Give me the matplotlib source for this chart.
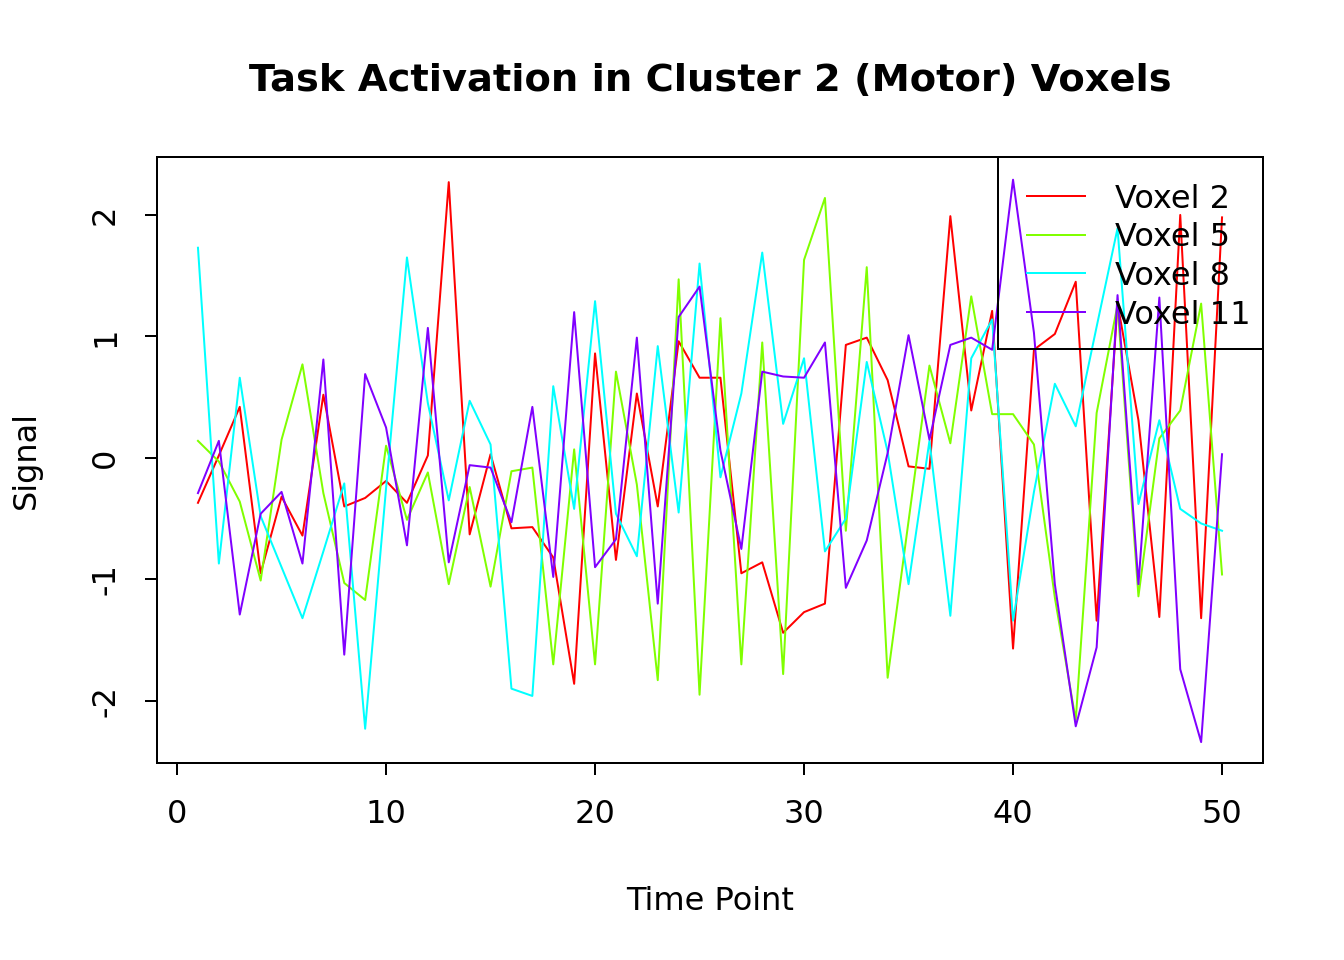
import matplotlib as mpl

mpl.use('agg')
import matplotlib.pyplot as plt
from matplotlib.patches import Rectangle
import numpy as np

# time points and signals per voxel
time_points = np.arange(1, 51)
voxel_2 = [-0.37, 0.02, 0.42, -0.95, -0.32, -0.64, 0.52, -0.40, -0.33, -0.19,
           -0.37, 0.02, 2.27, -0.63, 0.03, -0.58, -0.57, -0.82, -1.86, 0.86,
           -0.84, 0.53, -0.40, 0.96, 0.66, 0.66, -0.95, -0.86, -1.44, -1.27,
           -1.20, 0.93, 0.99, 0.64, -0.07, -0.09, 1.99, 0.39, 1.21, -1.57,
           0.89, 1.02, 1.45, -1.34, 1.27, 0.31, -1.31, 2.00, -1.32, 1.98]
voxel_5 = [0.14, -0.03, -0.36, -1.01, 0.15, 0.77, -0.29, -1.03, -1.17, 0.10,
           -0.51, -0.12, -1.04, -0.24, -1.06, -0.11, -0.08, -1.70, 0.07, -1.70,
           0.71, -0.22, -1.83, 1.47, -1.95, 1.15, -1.70, 0.95, -1.78, 1.63,
           2.14, -0.60, 1.57, -1.81, -0.52, 0.76, 0.12, 1.33, 0.36, 0.36,
           0.11, -1.15, -2.16, 0.37, 1.26, -1.14, 0.16, 0.39, 1.27, -0.96]
voxel_8 = [1.73, -0.87, 0.66, -0.48, -0.90, -1.32, -0.77, -0.21, -2.23, -0.25,
           1.65, 0.45, -0.35, 0.47, 0.11, -1.90, -1.96, 0.59, -0.42, 1.29,
           -0.46, -0.81, 0.92, -0.45, 1.60, -0.16, 0.53, 1.69, 0.28, 0.82,
           -0.77, -0.50, 0.79, 0.05, -1.04, 0.14, -1.30, 0.82, 1.14, -1.34,
           -0.28, 0.61, 0.26, 1.08, 1.89, -0.38, 0.31, -0.42, -0.54, -0.60]
voxel_11 = [-0.29, 0.14, -1.29, -0.46, -0.28, -0.87, 0.81, -1.62, 0.69, 0.25,
            -0.72, 1.07, -0.86, -0.06, -0.08, -0.53, 0.42, -0.98, 1.20, -0.90,
            -0.67, 0.99, -1.20, 1.16, 1.41, 0.06, -0.75, 0.71, 0.67, 0.66,
            0.95, -1.07, -0.68, 0.04, 1.01, 0.15, 0.93, 0.99, 0.89, 2.29,
            1.03, -1.04, -2.21, -1.56, 1.34, -1.04, 1.32, -1.74, -2.34, 0.03]
series_labels = ['Voxel 2', 'Voxel 5', 'Voxel 8', 'Voxel 11']
series_colors = ['#FF0000', '#80FF00', '#00FFFF', '#8000FF']

plt.rcParams['font.family'] = 'DejaVu Sans'
plt.rcParams['axes.unicode_minus'] = False
fig = plt.figure(figsize=(7, 5), dpi=192)
ax = fig.add_axes([157 / 1344, 1 - 763 / 960, 1106 / 1344, 606 / 960])

for ys, label, color in zip([voxel_2, voxel_5, voxel_8, voxel_11], series_labels, series_colors):
  ax.plot(time_points, ys, color=color, lw=0.75, label=label)

ax.set_xlim(-0.96, 51.96)
ax.set_ylim(-2.512, 2.477)
ax.set_xticks([0, 10, 20, 30, 40, 50])
ax.set_yticks([-2, -1, 0, 1, 2])
for sp in ax.spines.values():
  sp.set_linewidth(0.75)
ax.tick_params(axis='both', length=4.5, width=0.75, labelsize=12, pad=9)
ax.tick_params(axis='y', labelrotation=90)
for t in ax.get_yticklabels():
  t.set_va('center')

ax.set_xlabel('Time Point', fontsize=12, labelpad=21)
ax.set_ylabel('Signal', fontsize=12, labelpad=18)
fig.text(710 / 1344, 1 - 81 / 960, 'Task Activation in Cluster 2 (Motor) Voxels',
         ha='center', va='center', fontsize=14.4, fontweight='bold')


# legend drawn R-style (transparent box in the top right corner)
def ax_frac(px, py):
  return (px - 157) / 1106, (763 - py) / 606


x0, y0 = ax_frac(998, 349)
ax.add_patch(Rectangle((x0, y0), 1 - x0, 1 - y0, transform=ax.transAxes, fill=False,
                       edgecolor='black', lw=0.75, clip_on=False, zorder=5))
for i, (label, color) in enumerate(zip(series_labels, series_colors)):
  py = 196 + 38.7 * i
  lx0, ly = ax_frac(1027, py)
  lx1, _ = ax_frac(1085, py)
  tx, ty = ax_frac(1115, py + 11.5)
  ax.plot([lx0, lx1], [ly, ly], color=color, lw=0.75, transform=ax.transAxes, zorder=5)
  ax.text(tx, ty, label, fontsize=12, ha='left', va='baseline', transform=ax.transAxes, zorder=6)

plt.savefig('out.png', dpi=192)
